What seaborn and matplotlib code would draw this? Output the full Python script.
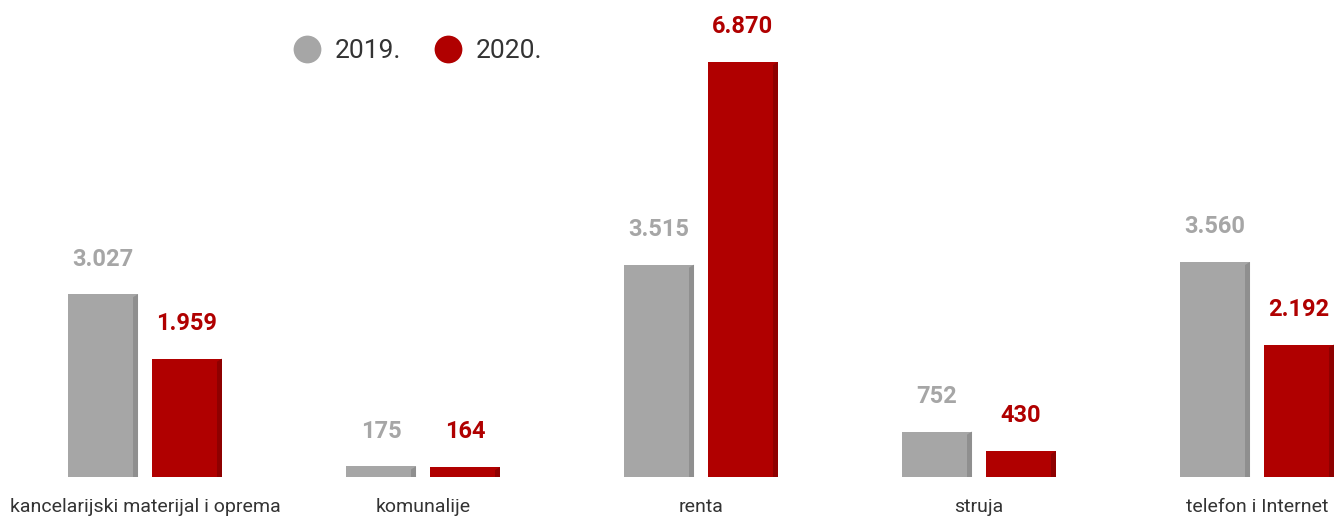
import matplotlib
matplotlib.use("Agg")
import matplotlib.pyplot as plt
from matplotlib.lines import Line2D
from matplotlib.patches import Polygon
import seaborn as sns
import pandas as pd

categories = ["kancelarijski materijal i oprema", "komunalije", "renta", "struja", "telefon i Internet"]
years = ["2019.", "2020."]
values_2019 = [3027, 175, 3515, 752, 3560]
values_2020 = [1959, 164, 6870, 430, 2192]
labels_2019 = ["3.027", "175", "3.515", "752", "3.560"]
labels_2020 = ["1.959", "164", "6.870", "430", "2.192"]

GRAY = "#a6a6a6"
RED = "#b00000"
GRAY_SIDE = "#8f8f8f"
RED_SIDE = "#8e0000"

df = pd.DataFrame({
    "cat": categories * 2,
    "year": [years[0]] * len(categories) + [years[1]] * len(categories),
    "val": values_2019 + values_2020,
})

sns.set_theme(style="white")
plt.rcParams["font.family"] = ["Roboto", "DejaVu Sans"]

W, H = 1336, 521
fig = plt.figure(figsize=(W / 100, H / 100), dpi=100)
ax = fig.add_axes([6 / W, 44 / H, 1330 / W, 477 / H])

sns.barplot(data=df, x="cat", y="val", hue="year", order=categories, hue_order=years,
            palette=[GRAY, RED], width=0.604, gap=0.166, dodge=True, legend=False,
            saturation=1, ax=ax, linewidth=0)

ax.set_xlim(-0.5, -0.5 + 1330 / 278)
ax.set_ylim(0, 477 / 415 * 6870)
for s in ax.spines.values():
    s.set_visible(False)
ax.set_yticks([])
ax.set_xlabel("")
ax.set_ylabel("")
ax.tick_params(axis="x", length=0, pad=15, labelsize=14, labelcolor="#333333")

# pseudo-3D side faces derived from bar geometry
px_per_x = 278
px_per_y = 415 / 6870
side_dx = 5 / px_per_x
top_dy = 3 / px_per_y
for i, cont in enumerate(ax.containers):
    side_col = GRAY_SIDE if i == 0 else RED_SIDE
    for p in cont.patches:
        x0, w, h = p.get_x(), p.get_width(), p.get_height()
        side = Polygon([(x0 + w - side_dx, 0), (x0 + w, 0), (x0 + w, h), (x0 + w - side_dx, h - top_dy)],
                       closed=True, facecolor=side_col, edgecolor="none", zorder=3)
        ax.add_patch(side)

# value labels
for cont, labs, col in zip(ax.containers, [labels_2019, labels_2020], [GRAY, RED]):
    for p, lab in zip(cont.patches, labs):
        ax.annotate(lab, (p.get_x() + p.get_width() / 2, p.get_height()),
                    xytext=(0, 17), textcoords="offset points", ha="center", va="bottom",
                    fontsize=17, fontweight="bold", color=col)

handles = [Line2D([0], [0], marker="o", linestyle="", markersize=20, markerfacecolor=GRAY, markeredgewidth=0),
           Line2D([0], [0], marker="o", linestyle="", markersize=20, markerfacecolor=RED, markeredgewidth=0)]
fig.legend(handles, years, loc="center left", bbox_to_anchor=(267 / W, 1 - 51 / H), ncol=2,
           frameon=False, fontsize=19, labelcolor="#333333", handletextpad=0.45, columnspacing=1.2,
           handlelength=1.2)

fig.savefig("out.png", dpi=100)
